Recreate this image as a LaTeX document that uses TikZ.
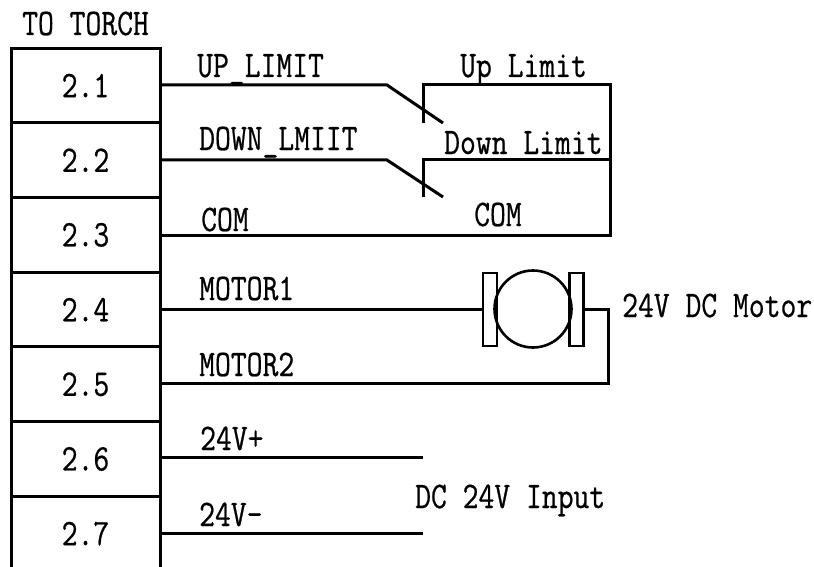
\documentclass[tikz,border=0pt]{standalone}
\usepackage{fontspec}
\setmonofont[FakeStretch=0.82,FakeBold=0.6]{Latin Modern Mono}
\usetikzlibrary{positioning}
\usetikzlibrary{calc}
\tikzset{
  wire/.style={line width=3pt},
  termbox/.style={draw, line width=3pt, minimum width=149pt, minimum height=74.7pt, inner sep=0pt, font=\ttfamily\fontsize{37.5}{40}\selectfont},
  brush/.style={draw, line width=2.6pt, minimum width=14pt, minimum height=73pt, inner sep=0pt},
  tag/.style={anchor=base west, inner sep=0pt, font=\ttfamily\fontsize{37.5}{40}\selectfont},
}
\begin{document}
\begin{tikzpicture}[x=1pt,y=-1pt]
\clip (0,0) rectangle (814,567);
\useasboundingbox (0,0) rectangle (814,567);

% terminal strip
\node [termbox] (t1) at (85.5,85.5) {2.1};
\node [termbox] (t2) at (85.5,160.2) {2.2};
\node [termbox] (t3) at (85.5,234.9) {2.3};
\node [termbox] (t4) at (85.5,309.6) {2.4};
\node [termbox] (t5) at (85.5,384.3) {2.5};
\node [termbox] (t6) at (85.5,459) {2.6};
\node [termbox] (t7) at (85.5,533.7) {2.7};
\node [tag] (torch) at (22,35) {TO TORCH};

% limit switches
\coordinate (upBend) at (387,85);
\coordinate (upTip) at (443,123);
\coordinate (upFixTop) at (423,85);
\coordinate (upFixEnd) at (423,123);
\coordinate (upRight) at (610,85);
\coordinate (downBend) at (387,160);
\coordinate (downTip) at (443,197);
\coordinate (downFixTop) at (423,160);
\coordinate (downFixEnd) at (423,197);
\coordinate (downRight) at (610,160);
\coordinate (comRight) at (610,235);
\draw [wire] (t1.east |- upBend) -- (upBend) -- (upTip);
\draw [wire] (upFixEnd) -- (upFixTop) -- (upRight) -- (comRight) -- (t3.east |- comRight);
\draw [wire] (t2.east |- downBend) -- (downBend) -- (downTip);
\draw [wire] (downFixEnd) -- (downFixTop) -- (downRight);

% motor
\node [draw, circle, line width=2.6pt, minimum size=77pt, inner sep=0pt] (motor) at (533,309) {};
\node [brush] (brushL) at (490,309.5) {};
\node [brush] (brushR) at (576.5,309.5) {};
\coordinate (motorOut) at (608,309.5);
\coordinate (motorBack) at (608,383);
\draw [wire] (t4.east |- brushL.west) -- (brushL.west);
\draw [wire] (brushR.east) -- (motorOut) -- (motorBack) -- (t5.east |- motorBack);

% input
\coordinate (plusEnd) at (423,457);
\coordinate (minusEnd) at (423,533);
\draw [wire] (t6.east |- plusEnd) -- (plusEnd);
\draw [wire] (t7.east |- minusEnd) -- (minusEnd);

\node [tag] (upWire) at (197,77) {UP\_LIMIT};
\node [tag] (downWire) at (199,150) {DOWN\_LMIIT};
\node [tag] (comWire) at (201,231) {COM};
\node [tag] (upSw) at (460,77) {Up Limit};
\node [tag] (downSw) at (444,154) {Down Limit};
\node [tag] (comSw) at (474,226) {COM};
\node [tag] (motorA) at (199,300) {MOTOR1};
\node [tag] (motorB) at (199,376) {MOTOR2};
\node [tag] (motorTag) at (622,317) {24V DC Motor};
\node [tag] (plusWire) at (200,450) {24V+};
\node [tag] (minusWire) at (199,526) {24V-};
\node [tag] (inputTag) at (415,508) {DC 24V Input};
\end{tikzpicture}
\end{document}
